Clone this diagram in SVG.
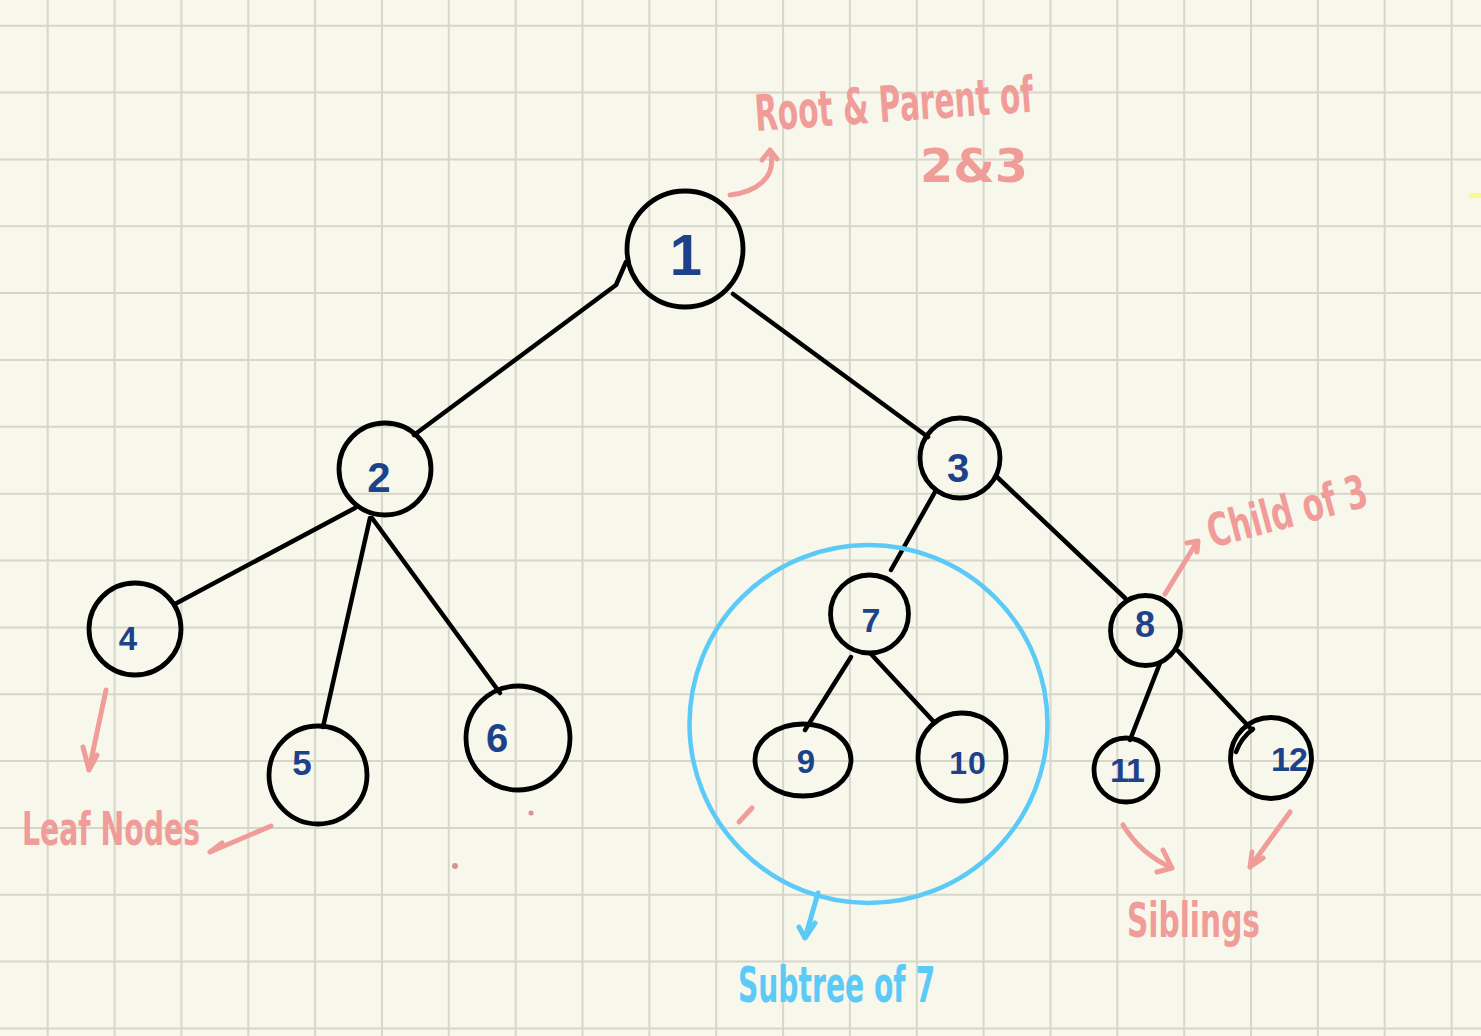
<svg xmlns="http://www.w3.org/2000/svg" width="1481" height="1036" viewBox="0 0 1481 1036">
<defs>
<style>
.grid{fill:none;stroke:#d6d6ca;stroke-width:2}
.node{fill:none;stroke:#000;stroke-width:4.8}
.edge{fill:none;stroke:#000;stroke-width:4.5;stroke-linecap:round;stroke-linejoin:round}
.lbl{font-family:"Liberation Sans",Arial,sans-serif;font-weight:bold;fill:#1d4289;text-anchor:middle}
.note{font-family:"Liberation Sans Narrow","DejaVu Sans Condensed","Liberation Sans",sans-serif;font-weight:bold;fill:#f09c99}
.pink{fill:none;stroke:#f09c99;stroke-width:5;stroke-linecap:round;stroke-linejoin:round}
.blue{fill:none;stroke:#5ccaf7;stroke-width:5;stroke-linecap:round;stroke-linejoin:round}
</style>
</defs>
<rect width="1481" height="1036" fill="#f7f7ec"/>
<path class="grid" d="M47.7 0V1036M114.6 0V1036M181.4 0V1036M248.3 0V1036M315.1 0V1036M382 0V1036M448.8 0V1036M515.7 0V1036M582.5 0V1036M649.4 0V1036M716.2 0V1036M783.1 0V1036M849.9 0V1036M916.8 0V1036M983.6 0V1036M1050.5 0V1036M1117.3 0V1036M1184.2 0V1036M1251 0V1036M1317.9 0V1036M1384.7 0V1036M1451.6 0V1036M0 25.7H1481M0 92.6H1481M0 159.4H1481M0 226.3H1481M0 293.1H1481M0 360H1481M0 426.8H1481M0 493.7H1481M0 560.5H1481M0 627.4H1481M0 694.2H1481M0 761.1H1481M0 827.9H1481M0 894.8H1481M0 961.6H1481M0 1028.5H1481"/>
<rect x="1469" y="193" width="12" height="5" fill="#fbfb86"/>

<g id="connectors">
<path class="edge" d="M414 435 L616 285 L626 262"/>
<path class="edge" d="M733 294 L928 437"/>
<path class="edge" d="M355 508 L175 604"/>
<path class="edge" d="M370 518 L323 727"/>
<path class="edge" d="M372 518 L500 693"/>
<path class="edge" d="M935 492 L891 570"/>
<path class="edge" d="M996 476 L1125 598"/>
<path class="edge" d="M851 657 L805 730"/>
<path class="edge" d="M871 654 L934 722"/>
<path class="edge" d="M1160 663 L1130 740"/>
<path class="edge" d="M1178 651 L1252 730"/>
<path class="edge" d="M1236 752 Q1241 738 1253 729"/>
</g>

<g id="node-1"><circle class="node" cx="685" cy="249" r="58"/><text class="lbl" x="686" y="275" font-size="58">1</text></g>
<g id="node-2"><circle class="node" cx="385" cy="469" r="46"/><text class="lbl" x="379" y="492" font-size="42">2</text></g>
<g id="node-3"><circle class="node" cx="960" cy="458" r="40"/><text class="lbl" x="958" y="482" font-size="40">3</text></g>
<g id="node-4"><circle class="node" cx="135" cy="629" r="46"/><text class="lbl" x="128" y="650" font-size="33">4</text></g>
<g id="node-5"><circle class="node" cx="318" cy="775" r="49"/><text class="lbl" x="302" y="775" font-size="35">5</text></g>
<g id="node-6"><circle class="node" cx="518" cy="738" r="52"/><text class="lbl" x="497" y="752" font-size="40">6</text></g>
<g id="node-7"><circle class="node" cx="869.5" cy="614" r="39"/><text class="lbl" x="871" y="632" font-size="34">7</text></g>
<g id="node-8"><circle class="node" cx="1145.5" cy="630.5" r="35"/><text class="lbl" x="1145" y="637" font-size="36">8</text></g>
<g id="node-9"><ellipse class="node" cx="803" cy="760" rx="48" ry="36"/><text class="lbl" x="806" y="773" font-size="33">9</text></g>
<g id="node-10"><circle class="node" cx="962" cy="757" r="44"/><text class="lbl" x="968" y="774" font-size="32" letter-spacing="1">10</text></g>
<g id="node-11"><circle class="node" cx="1126" cy="770" r="32"/><text class="lbl" x="1127" y="782" font-size="34" letter-spacing="-1">11</text></g>
<g id="node-12"><circle class="node" cx="1271" cy="758" r="40.5"/><text class="lbl" x="1289" y="771" font-size="34" letter-spacing="-1">12</text></g>

<g id="subtree-7">
<circle cx="868.5" cy="724" r="179" fill="none" stroke="#5ccaf7" stroke-width="4.5"/>
<path class="blue" d="M818 893 L805 938 M799 927 L805 938 L815 923"/>
<text class="note" x="738" y="1002" font-size="50" textLength="197" lengthAdjust="spacingAndGlyphs" style="fill:#5ccaf7">Subtree of 7</text>
</g>

<g id="note-root">
<path class="pink" d="M730 195 C755 192 778 178 770 151 M762 160 L770 150 L777 159"/>
<text class="note" x="756" y="131" font-size="50" textLength="279" lengthAdjust="spacingAndGlyphs" transform="rotate(-4 756 131)">Root &amp; Parent of</text>
<text class="note" x="920" y="182" font-size="46" textLength="108" lengthAdjust="spacingAndGlyphs">2&amp;3</text>
</g>

<g id="note-child">
<path class="pink" d="M1165 594 L1197 542 M1187 543 L1198 541 L1197 552"/>
<text class="note" x="1212" y="548" font-size="46" textLength="164" lengthAdjust="spacingAndGlyphs" transform="rotate(-15 1212 548)">Child of 3</text>
</g>

<g id="note-leaf">
<path class="pink" d="M106 690 L89 770 M83 747 L89 770 L97 755"/>
<path class="pink" d="M271 826 L210 852 M210 852 L222 843"/>
<text class="note" x="22" y="845" font-size="46" textLength="178" lengthAdjust="spacingAndGlyphs">Leaf Nodes</text>
</g>

<g id="note-siblings">
<path class="pink" d="M1123 825 C1135 845 1150 858 1172 868 M1163 850 L1172 868 L1157 872"/>
<path class="pink" d="M1290 812 L1250 867 M1263 858 L1250 867 L1252 852"/>
<text class="note" x="1127" y="937" font-size="48" textLength="133" lengthAdjust="spacingAndGlyphs">Siblings</text>
</g>

<g id="marks">
<path class="pink" d="M739 822 L752 808"/>
<circle cx="455" cy="866" r="3" fill="#d8958f"/>
<circle cx="531" cy="813" r="2.5" fill="#d8958f"/>
</g>
</svg>
